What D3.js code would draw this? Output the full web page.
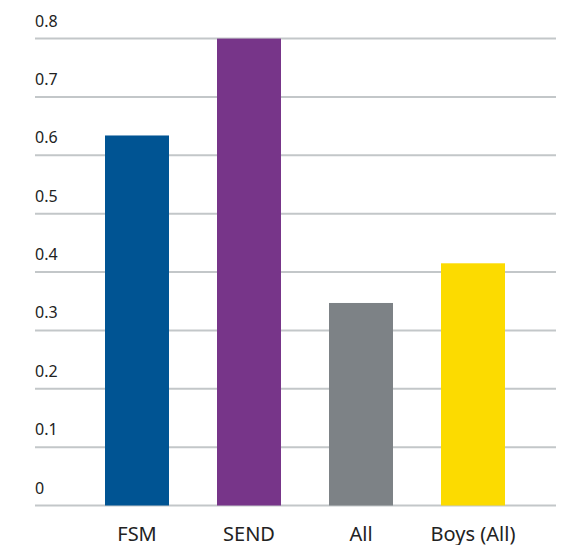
<!DOCTYPE html>
<html><head><meta charset="utf-8">
<script src="https://cdn.jsdelivr.net/npm/d3@7"></script>
<style>body{margin:0;background:#fff}svg{display:block}</style>
</head><body>
<svg id="chart" width="568" height="545"></svg>
<script>
const categories = ["FSM", "SEND", "All", "Boys (All)"];
const values = [0.634, 0.8, 0.347, 0.415];
const colors = ["#005493", "#773589", "#7d8286", "#fcdb00"];
const ticks = [0, 0.1, 0.2, 0.3, 0.4, 0.5, 0.6, 0.7, 0.8];
const tickLabels = ["0", "0.1", "0.2", "0.3", "0.4", "0.5", "0.6", "0.7", "0.8"];

const svg = d3.select("#chart");
const x0 = 35, x1 = 556;
const y = d3.scaleLinear().domain([0, 0.8]).range([505.5, 38.6]);
const x = d3.scaleBand().domain(categories).range([81, 529]).paddingInner(48 / 112).paddingOuter(24 / 112);

const grid = svg.append("g");
grid.selectAll("line").data(ticks).join("line")
  .attr("x1", x0).attr("x2", x1)
  .attr("y1", d => y(d)).attr("y2", d => y(d))
  .attr("stroke", "#c3c7c9").attr("stroke-width", 2);
grid.selectAll("text").data(ticks).join("text")
  .attr("x", x0).attr("y", d => y(d) - 12)
  .attr("font-family", "Noto Sans").attr("font-size", 16).attr("fill", "#222")
  .text((d, i) => tickLabels[i]);

svg.append("g").selectAll("rect").data(values).join("rect")
  .attr("x", (d, i) => x(categories[i]))
  .attr("width", x.bandwidth())
  .attr("y", d => y(d))
  .attr("height", d => y(0) - y(d))
  .attr("fill", (d, i) => colors[i]);

svg.append("g").selectAll("text").data(categories).join("text")
  .attr("x", d => x(d) + x.bandwidth() / 2)
  .attr("y", 540.5)
  .attr("text-anchor", "middle")
  .attr("font-family", "Noto Sans").attr("font-size", 20).attr("fill", "#222")
  .text(d => d);
</script>
</body></html>
